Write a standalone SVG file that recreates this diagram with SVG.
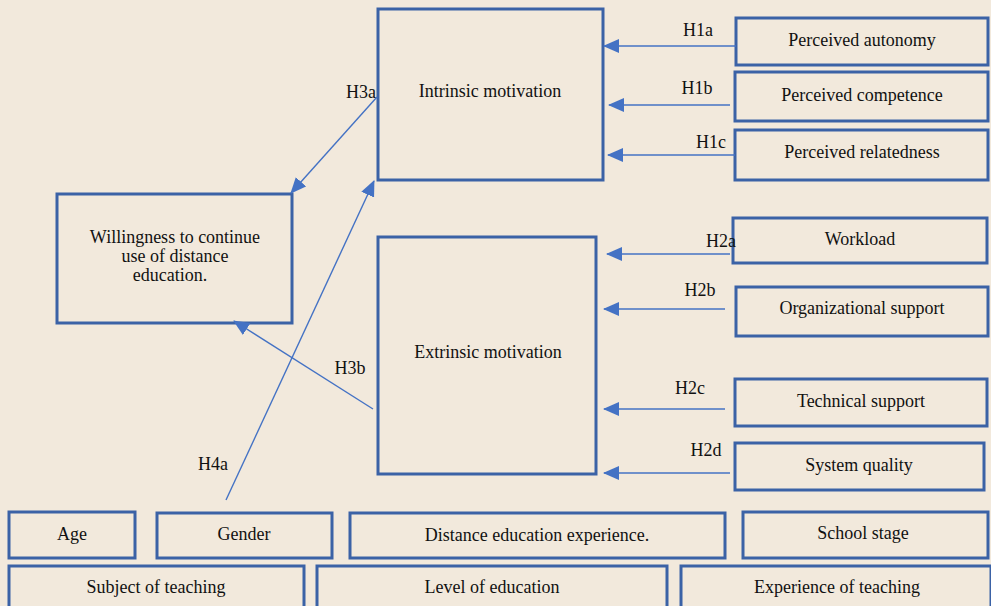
<svg xmlns="http://www.w3.org/2000/svg" width="991" height="606" viewBox="0 0 991 606">
<style>
.box{fill:none;stroke:#3b62a6;stroke-width:3}
.t{font-family:"Liberation Serif","Times New Roman",serif;font-size:18px;fill:#111;text-anchor:middle;dominant-baseline:central}
.lb{font-family:"Liberation Serif","Times New Roman",serif;font-size:18px;fill:#111;text-anchor:middle;dominant-baseline:central}
.c{stroke:#4472c4;stroke-width:1.4;fill:none;marker-end:url(#ah)}
</style>
<defs>
<marker id="ah" markerUnits="userSpaceOnUse" markerWidth="16" markerHeight="14" refX="15" refY="7" orient="auto">
<path d="M0,0 L16,7 L0,14 Z" fill="#4472c4"/>
</marker>
</defs>
<rect width="991" height="606" fill="#f2e9dc"/>
<g id="intrinsic"><rect class="box" x="378" y="9" width="225" height="171"/><text class="t" x="490" y="91">Intrinsic motivation</text></g>
<g id="extrinsic"><rect class="box" x="378" y="237" width="218" height="237"/><text class="t" x="488" y="352">Extrinsic motivation</text></g>
<g id="willingness"><rect class="box" x="57" y="194" width="235" height="129"/><text class="t" x="175" y="237">Willingness to continue</text><text class="t" x="175" y="256">use of distance</text><text class="t" x="170" y="275">education.</text></g>
<g id="autonomy"><rect class="box" x="736" y="18" width="252" height="47"/><text class="t" x="862" y="40">Perceived autonomy</text></g>
<g id="competence"><rect class="box" x="735" y="72" width="253" height="49"/><text class="t" x="862" y="95">Perceived competence</text></g>
<g id="relatedness"><rect class="box" x="735" y="130" width="253" height="50"/><text class="t" x="862" y="152">Perceived relatedness</text></g>
<g id="workload"><rect class="box" x="733" y="218" width="254" height="45"/><text class="t" x="860" y="239">Workload</text></g>
<g id="org"><rect class="box" x="736" y="287" width="252" height="49"/><text class="t" x="862" y="308">Organizational support</text></g>
<g id="tech"><rect class="box" x="735" y="379" width="252" height="47"/><text class="t" x="861" y="401">Technical support</text></g>
<g id="sysq"><rect class="box" x="735" y="443" width="249" height="47"/><text class="t" x="859" y="465">System quality</text></g>
<g id="age"><rect class="box" x="9" y="512" width="126" height="46"/><text class="t" x="72" y="534">Age</text></g>
<g id="gender"><rect class="box" x="157" y="513" width="175" height="45"/><text class="t" x="244" y="534">Gender</text></g>
<g id="distexp"><rect class="box" x="350" y="513" width="375" height="45"/><text class="t" x="537" y="535">Distance education experience.</text></g>
<g id="stage"><rect class="box" x="743" y="512" width="245" height="46"/><text class="t" x="863" y="533">School stage</text></g>
<g id="subject"><rect class="box" x="9" y="566" width="295" height="45"/><text class="t" x="156" y="587">Subject of teaching</text></g>
<g id="level"><rect class="box" x="317" y="566" width="350" height="45"/><text class="t" x="492" y="587">Level of education</text></g>
<g id="expteach"><rect class="box" x="681" y="566" width="310" height="45"/><text class="t" x="837" y="587">Experience of teaching</text></g>
<g id="connectors">
<line class="c" x1="736" y1="46" x2="604" y2="46"/>
<line class="c" x1="730" y1="105" x2="609" y2="105"/>
<line class="c" x1="735" y1="155" x2="608" y2="155"/>
<line class="c" x1="730" y1="254" x2="607" y2="254"/>
<line class="c" x1="725" y1="309" x2="604" y2="309"/>
<line class="c" x1="725" y1="409" x2="604" y2="409"/>
<line class="c" x1="730" y1="473" x2="604" y2="473"/>
<line class="c" x1="377" y1="97" x2="291" y2="193"/>
<line class="c" x1="226" y1="500" x2="374" y2="181"/>
<line class="c" x1="373" y1="409" x2="234" y2="321"/>
<text class="lb" x="698" y="30">H1a</text>
<text class="lb" x="697" y="88">H1b</text>
<text class="lb" x="711" y="142">H1c</text>
<text class="lb" x="721" y="241">H2a</text>
<text class="lb" x="700" y="290">H2b</text>
<text class="lb" x="690" y="388">H2c</text>
<text class="lb" x="706" y="450">H2d</text>
<text class="lb" x="361" y="92">H3a</text>
<text class="lb" x="350" y="368">H3b</text>
<text class="lb" x="213" y="464">H4a</text>
</g>
</svg>
